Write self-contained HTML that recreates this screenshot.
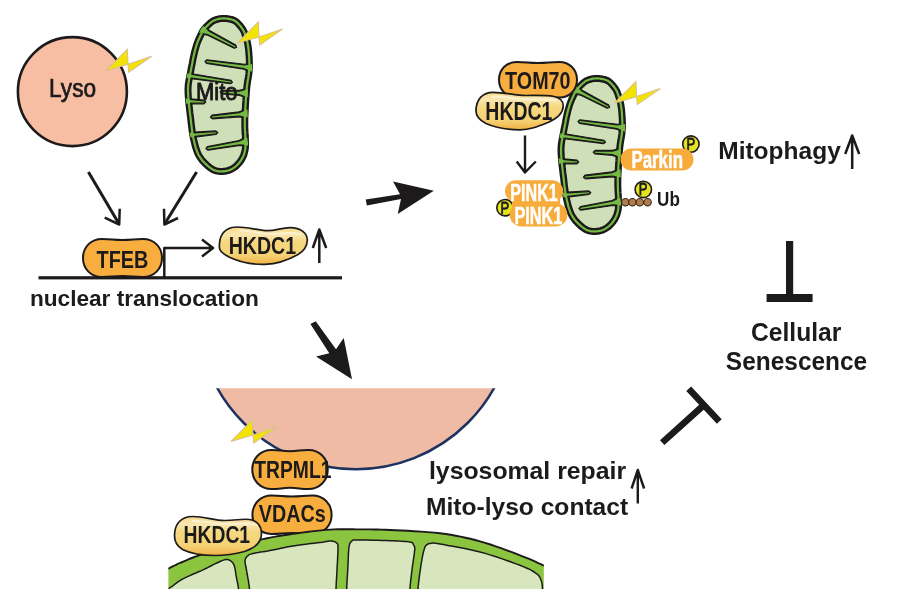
<!DOCTYPE html>
<html><head><meta charset="utf-8"><style>html,body{margin:0;padding:0;background:#fff;}svg{display:block;will-change:transform;}</style></head>
<body><svg width="900" height="601" viewBox="0 0 900 601" font-family="Liberation Sans, sans-serif" font-weight="bold">
<rect width="900" height="601" fill="#ffffff"/>
<defs><linearGradient id="yg" x1="0" y1="0" x2="0" y2="1"><stop offset="0" stop-color="#f6d98a"/><stop offset="0.2" stop-color="#f9e6b0"/><stop offset="0.4" stop-color="#f6d880"/><stop offset="0.75" stop-color="#f4d274"/><stop offset="1" stop-color="#f0b044"/></linearGradient></defs>
<defs><clipPath id="mclip"><path d="M596.7,75.7 L597.6,75.7 L598.6,75.8 L599.6,75.8 L600.6,76.0 L601.6,76.1 L602.5,76.3 L603.5,76.5 L604.4,76.7 L605.2,76.9 L606.1,77.2 L606.9,77.4 L607.6,77.7 L608.4,78.1 L609.2,78.5 L609.9,78.9 L610.7,79.5 L611.5,80.2 L612.3,80.9 L613.2,81.8 L614.1,82.7 L614.9,83.7 L615.7,84.6 L616.4,85.6 L617.1,86.5 L617.7,87.3 L618.2,88.1 L618.6,88.8 L619.0,89.5 L619.4,90.3 L619.7,91.2 L620.1,92.2 L620.5,93.5 L621.0,94.8 L621.5,96.3 L621.9,97.9 L622.4,99.6 L622.9,101.4 L623.3,103.3 L623.7,105.3 L624.0,107.5 L624.3,109.8 L624.5,112.2 L624.7,114.9 L624.9,117.6 L625.0,120.3 L625.1,123.1 L625.1,125.9 L625.0,128.6 L624.8,131.2 L624.6,133.7 L624.2,136.2 L623.8,138.7 L623.4,141.3 L623.0,144.0 L622.6,146.9 L622.3,150.0 L622.0,153.4 L621.7,157.1 L621.5,161.1 L621.2,165.1 L621.0,169.2 L620.8,173.1 L620.6,176.7 L620.5,180.0 L620.5,182.9 L620.5,185.7 L620.6,188.2 L620.7,190.6 L620.8,192.9 L621.0,195.0 L621.1,197.0 L621.1,198.9 L621.1,200.7 L621.2,202.4 L621.2,203.9 L621.2,205.3 L621.2,206.6 L621.1,207.9 L620.9,209.2 L620.7,210.5 L620.4,211.9 L620.1,213.2 L619.7,214.6 L619.3,215.9 L618.8,217.2 L618.3,218.4 L617.6,219.7 L616.9,220.9 L616.0,222.2 L615.1,223.5 L614.1,224.7 L613.0,226.0 L611.8,227.2 L610.7,228.3 L609.4,229.3 L608.2,230.2 L607.0,231.0 L605.7,231.6 L604.3,232.2 L602.9,232.8 L601.5,233.2 L600.1,233.6 L598.7,233.8 L597.2,234.0 L595.8,234.1 L594.4,234.1 L592.9,234.1 L591.4,233.9 L589.9,233.7 L588.5,233.4 L587.1,233.0 L585.7,232.4 L584.4,231.8 L583.0,231.0 L581.7,230.1 L580.4,229.1 L579.1,228.0 L577.9,226.9 L576.7,225.8 L575.6,224.7 L574.5,223.5 L573.5,222.4 L572.6,221.3 L571.7,220.1 L570.8,218.9 L570.0,217.5 L569.2,216.1 L568.5,214.6 L567.7,212.9 L567.1,211.2 L566.4,209.3 L565.8,207.3 L565.3,205.3 L564.8,203.2 L564.3,201.1 L563.8,198.9 L563.4,196.8 L563.0,194.6 L562.6,192.5 L562.3,190.3 L562.0,188.0 L561.7,185.5 L561.4,182.9 L561.1,179.9 L560.7,176.7 L560.3,173.0 L559.8,169.1 L559.3,165.1 L558.9,161.1 L558.6,157.1 L558.4,153.4 L558.3,150.0 L558.4,146.9 L558.6,144.1 L559.0,141.4 L559.4,138.8 L559.9,136.3 L560.5,133.8 L561.0,131.3 L561.5,128.7 L562.0,126.0 L562.5,123.2 L563.0,120.4 L563.6,117.6 L564.2,114.9 L564.8,112.3 L565.4,109.8 L566.0,107.5 L566.6,105.4 L567.3,103.4 L568.0,101.5 L568.7,99.7 L569.4,98.0 L570.1,96.4 L570.8,94.9 L571.5,93.5 L572.0,92.3 L572.6,91.3 L573.1,90.4 L573.5,89.6 L574.0,88.8 L574.6,88.1 L575.2,87.4 L575.9,86.5 L576.7,85.6 L577.5,84.7 L578.5,83.7 L579.5,82.7 L580.5,81.8 L581.4,81.0 L582.4,80.2 L583.3,79.5 L584.1,78.9 L584.9,78.5 L585.7,78.1 L586.5,77.7 L587.2,77.4 L588.0,77.2 L588.8,76.9 L589.6,76.7 L590.5,76.5 L591.3,76.3 L592.2,76.1 L593.1,76.0 L594.0,75.8 L594.9,75.8 L595.8,75.7Z"/></clipPath><g id="mito"><path d="M596.7,78.4 L597.5,78.4 L598.4,78.5 L599.3,78.5 L600.2,78.6 L601.1,78.8 L602.0,78.9 L602.9,79.1 L603.7,79.3 L604.5,79.5 L605.3,79.7 L606.0,80.0 L606.6,80.2 L607.2,80.5 L607.8,80.8 L608.4,81.2 L609.0,81.6 L609.7,82.2 L610.5,82.9 L611.3,83.7 L612.1,84.5 L612.8,85.4 L613.6,86.3 L614.3,87.2 L614.9,88.1 L615.4,88.8 L615.9,89.5 L616.2,90.1 L616.6,90.7 L616.9,91.4 L617.2,92.2 L617.6,93.1 L618.0,94.3 L618.4,95.7 L618.9,97.1 L619.4,98.7 L619.8,100.3 L620.3,102.0 L620.7,103.9 L621.0,105.8 L621.3,107.8 L621.6,110.0 L621.8,112.5 L622.0,115.0 L622.2,117.7 L622.3,120.4 L622.4,123.2 L622.4,125.9 L622.3,128.5 L622.1,130.9 L621.9,133.3 L621.6,135.8 L621.2,138.2 L620.7,140.8 L620.3,143.6 L619.9,146.5 L619.6,149.7 L619.3,153.2 L619.0,156.9 L618.8,160.9 L618.5,165.0 L618.3,169.0 L618.1,172.9 L617.9,176.6 L617.8,179.9 L617.8,182.9 L617.8,185.8 L617.9,188.4 L618.0,190.8 L618.1,193.0 L618.3,195.1 L618.4,197.1 L618.4,199.0 L618.4,200.8 L618.5,202.4 L618.5,203.9 L618.5,205.2 L618.5,206.5 L618.4,207.6 L618.3,208.8 L618.1,210.0 L617.8,211.3 L617.5,212.6 L617.1,213.8 L616.8,215.0 L616.3,216.1 L615.8,217.3 L615.2,218.4 L614.6,219.5 L613.8,220.6 L613.0,221.8 L612.0,223.0 L611.0,224.2 L609.9,225.3 L608.9,226.3 L607.8,227.2 L606.7,227.9 L605.6,228.6 L604.5,229.2 L603.3,229.7 L602.1,230.2 L600.8,230.6 L599.5,230.9 L598.2,231.2 L597.0,231.3 L595.7,231.4 L594.4,231.4 L593.1,231.4 L591.7,231.3 L590.4,231.1 L589.2,230.8 L587.9,230.4 L586.8,230.0 L585.6,229.4 L584.5,228.7 L583.3,227.9 L582.1,227.0 L580.9,226.0 L579.7,224.9 L578.6,223.9 L577.5,222.8 L576.5,221.7 L575.5,220.7 L574.7,219.6 L573.8,218.5 L573.1,217.4 L572.3,216.2 L571.6,214.9 L570.9,213.5 L570.2,211.9 L569.6,210.2 L569.0,208.5 L568.4,206.6 L567.9,204.6 L567.4,202.5 L566.9,200.5 L566.4,198.3 L566.0,196.3 L565.6,194.2 L565.3,192.1 L565.0,190.0 L564.7,187.7 L564.4,185.2 L564.1,182.6 L563.8,179.6 L563.4,176.3 L562.9,172.7 L562.5,168.8 L562.0,164.8 L561.6,160.8 L561.3,156.9 L561.1,153.3 L561.0,150.0 L561.1,147.1 L561.3,144.4 L561.7,141.8 L562.1,139.3 L562.6,136.9 L563.1,134.4 L563.6,131.8 L564.1,129.2 L564.6,126.5 L565.2,123.7 L565.7,120.9 L566.2,118.2 L566.8,115.5 L567.4,112.9 L568.0,110.5 L568.6,108.3 L569.2,106.2 L569.8,104.3 L570.5,102.4 L571.2,100.7 L571.9,99.0 L572.6,97.5 L573.3,96.0 L573.9,94.7 L574.5,93.5 L574.9,92.5 L575.4,91.7 L575.8,91.0 L576.2,90.4 L576.7,89.8 L577.3,89.1 L577.9,88.3 L578.7,87.4 L579.5,86.5 L580.4,85.6 L581.3,84.7 L582.3,83.8 L583.2,83.0 L584.1,82.3 L584.9,81.7 L585.6,81.2 L586.2,80.8 L586.9,80.5 L587.5,80.2 L588.2,80.0 L588.8,79.7 L589.6,79.5 L590.4,79.3 L591.1,79.1 L591.9,78.9 L592.7,78.7 L593.5,78.6 L594.3,78.5 L595.1,78.5 L595.9,78.4Z" fill="#cfe0b9"/><path d="M596.7,78.4 L597.5,78.4 L598.4,78.5 L599.3,78.5 L600.2,78.6 L601.1,78.8 L602.0,78.9 L602.9,79.1 L603.7,79.3 L604.5,79.5 L605.3,79.7 L606.0,80.0 L606.6,80.2 L607.2,80.5 L607.8,80.8 L608.4,81.2 L609.0,81.6 L609.7,82.2 L610.5,82.9 L611.3,83.7 L612.1,84.5 L612.8,85.4 L613.6,86.3 L614.3,87.2 L614.9,88.1 L615.4,88.8 L615.9,89.5 L616.2,90.1 L616.6,90.7 L616.9,91.4 L617.2,92.2 L617.6,93.1 L618.0,94.3 L618.4,95.7 L618.9,97.1 L619.4,98.7 L619.8,100.3 L620.3,102.0 L620.7,103.9 L621.0,105.8 L621.3,107.8 L621.6,110.0 L621.8,112.5 L622.0,115.0 L622.2,117.7 L622.3,120.4 L622.4,123.2 L622.4,125.9 L622.3,128.5 L622.1,130.9 L621.9,133.3 L621.6,135.8 L621.2,138.2 L620.7,140.8 L620.3,143.6 L619.9,146.5 L619.6,149.7 L619.3,153.2 L619.0,156.9 L618.8,160.9 L618.5,165.0 L618.3,169.0 L618.1,172.9 L617.9,176.6 L617.8,179.9 L617.8,182.9 L617.8,185.8 L617.9,188.4 L618.0,190.8 L618.1,193.0 L618.3,195.1 L618.4,197.1 L618.4,199.0 L618.4,200.8 L618.5,202.4 L618.5,203.9 L618.5,205.2 L618.5,206.5 L618.4,207.6 L618.3,208.8 L618.1,210.0 L617.8,211.3 L617.5,212.6 L617.1,213.8 L616.8,215.0 L616.3,216.1 L615.8,217.3 L615.2,218.4 L614.6,219.5 L613.8,220.6 L613.0,221.8 L612.0,223.0 L611.0,224.2 L609.9,225.3 L608.9,226.3 L607.8,227.2 L606.7,227.9 L605.6,228.6 L604.5,229.2 L603.3,229.7 L602.1,230.2 L600.8,230.6 L599.5,230.9 L598.2,231.2 L597.0,231.3 L595.7,231.4 L594.4,231.4 L593.1,231.4 L591.7,231.3 L590.4,231.1 L589.2,230.8 L587.9,230.4 L586.8,230.0 L585.6,229.4 L584.5,228.7 L583.3,227.9 L582.1,227.0 L580.9,226.0 L579.7,224.9 L578.6,223.9 L577.5,222.8 L576.5,221.7 L575.5,220.7 L574.7,219.6 L573.8,218.5 L573.1,217.4 L572.3,216.2 L571.6,214.9 L570.9,213.5 L570.2,211.9 L569.6,210.2 L569.0,208.5 L568.4,206.6 L567.9,204.6 L567.4,202.5 L566.9,200.5 L566.4,198.3 L566.0,196.3 L565.6,194.2 L565.3,192.1 L565.0,190.0 L564.7,187.7 L564.4,185.2 L564.1,182.6 L563.8,179.6 L563.4,176.3 L562.9,172.7 L562.5,168.8 L562.0,164.8 L561.6,160.8 L561.3,156.9 L561.1,153.3 L561.0,150.0 L561.1,147.1 L561.3,144.4 L561.7,141.8 L562.1,139.3 L562.6,136.9 L563.1,134.4 L563.6,131.8 L564.1,129.2 L564.6,126.5 L565.2,123.7 L565.7,120.9 L566.2,118.2 L566.8,115.5 L567.4,112.9 L568.0,110.5 L568.6,108.3 L569.2,106.2 L569.8,104.3 L570.5,102.4 L571.2,100.7 L571.9,99.0 L572.6,97.5 L573.3,96.0 L573.9,94.7 L574.5,93.5 L574.9,92.5 L575.4,91.7 L575.8,91.0 L576.2,90.4 L576.7,89.8 L577.3,89.1 L577.9,88.3 L578.7,87.4 L579.5,86.5 L580.4,85.6 L581.3,84.7 L582.3,83.8 L583.2,83.0 L584.1,82.3 L584.9,81.7 L585.6,81.2 L586.2,80.8 L586.9,80.5 L587.5,80.2 L588.2,80.0 L588.8,79.7 L589.6,79.5 L590.4,79.3 L591.1,79.1 L591.9,78.9 L592.7,78.7 L593.5,78.6 L594.3,78.5 L595.1,78.5 L595.9,78.4Z" fill="none" stroke="#1c1a1b" stroke-width="7.0"/><g clip-path="url(#mclip)"><path d="M571.32,93.76 L576.66,94.35 L580.25,95.04 L607.17,108.30 L609.60,107.53 L608.83,105.10 L582.56,90.60 L579.94,88.05 L576.41,84.01Z" fill="#1c1a1b" stroke="#1c1a1b" stroke-width="1.2" stroke-linejoin="round"/><path d="M626.40,122.43 L621.18,123.68 L617.57,124.25 L579.94,119.82 L577.92,121.36 L579.46,123.38 L616.89,129.20 L620.22,130.72 L624.91,133.33Z" fill="#1c1a1b" stroke="#1c1a1b" stroke-width="1.2" stroke-linejoin="round"/><path d="M555.55,140.41 L560.78,139.21 L564.39,138.69 L603.44,143.78 L605.48,142.26 L603.96,140.22 L565.13,133.74 L561.82,132.19 L557.16,129.52Z" fill="#1c1a1b" stroke="#1c1a1b" stroke-width="1.2" stroke-linejoin="round"/><path d="M621.11,147.70 L616.04,149.45 L612.50,150.37 L595.07,150.40 L593.20,152.13 L594.93,154.00 L612.31,155.36 L615.76,156.55 L620.69,158.69Z" fill="#1c1a1b" stroke="#1c1a1b" stroke-width="1.2" stroke-linejoin="round"/><path d="M555.24,166.45 L560.33,164.75 L563.87,163.87 L576.91,163.80 L578.80,162.09 L577.09,160.20 L564.12,158.87 L560.67,157.65 L555.77,155.46Z" fill="#1c1a1b" stroke="#1c1a1b" stroke-width="1.2" stroke-linejoin="round"/><path d="M620.34,168.04 L615.55,170.47 L612.17,171.85 L585.02,175.21 L583.41,177.18 L585.38,178.79 L612.66,176.83 L616.25,177.53 L621.41,178.99Z" fill="#1c1a1b" stroke="#1c1a1b" stroke-width="1.2" stroke-linejoin="round"/><path d="M559.71,200.82 L564.51,198.44 L567.91,197.08 L589.16,194.49 L590.79,192.54 L588.84,190.91 L567.47,192.10 L563.89,191.36 L558.73,189.86Z" fill="#1c1a1b" stroke="#1c1a1b" stroke-width="1.2" stroke-linejoin="round"/><path d="M619.90,196.14 L615.30,198.90 L612.03,200.52 L580.40,206.63 L578.93,208.70 L581.00,210.17 L612.87,205.45 L616.50,205.90 L621.75,206.98Z" fill="#1c1a1b" stroke="#1c1a1b" stroke-width="1.2" stroke-linejoin="round"/></g><path d="M596.7,78.4 L597.5,78.4 L598.4,78.5 L599.3,78.5 L600.2,78.6 L601.1,78.8 L602.0,78.9 L602.9,79.1 L603.7,79.3 L604.5,79.5 L605.3,79.7 L606.0,80.0 L606.6,80.2 L607.2,80.5 L607.8,80.8 L608.4,81.2 L609.0,81.6 L609.7,82.2 L610.5,82.9 L611.3,83.7 L612.1,84.5 L612.8,85.4 L613.6,86.3 L614.3,87.2 L614.9,88.1 L615.4,88.8 L615.9,89.5 L616.2,90.1 L616.6,90.7 L616.9,91.4 L617.2,92.2 L617.6,93.1 L618.0,94.3 L618.4,95.7 L618.9,97.1 L619.4,98.7 L619.8,100.3 L620.3,102.0 L620.7,103.9 L621.0,105.8 L621.3,107.8 L621.6,110.0 L621.8,112.5 L622.0,115.0 L622.2,117.7 L622.3,120.4 L622.4,123.2 L622.4,125.9 L622.3,128.5 L622.1,130.9 L621.9,133.3 L621.6,135.8 L621.2,138.2 L620.7,140.8 L620.3,143.6 L619.9,146.5 L619.6,149.7 L619.3,153.2 L619.0,156.9 L618.8,160.9 L618.5,165.0 L618.3,169.0 L618.1,172.9 L617.9,176.6 L617.8,179.9 L617.8,182.9 L617.8,185.8 L617.9,188.4 L618.0,190.8 L618.1,193.0 L618.3,195.1 L618.4,197.1 L618.4,199.0 L618.4,200.8 L618.5,202.4 L618.5,203.9 L618.5,205.2 L618.5,206.5 L618.4,207.6 L618.3,208.8 L618.1,210.0 L617.8,211.3 L617.5,212.6 L617.1,213.8 L616.8,215.0 L616.3,216.1 L615.8,217.3 L615.2,218.4 L614.6,219.5 L613.8,220.6 L613.0,221.8 L612.0,223.0 L611.0,224.2 L609.9,225.3 L608.9,226.3 L607.8,227.2 L606.7,227.9 L605.6,228.6 L604.5,229.2 L603.3,229.7 L602.1,230.2 L600.8,230.6 L599.5,230.9 L598.2,231.2 L597.0,231.3 L595.7,231.4 L594.4,231.4 L593.1,231.4 L591.7,231.3 L590.4,231.1 L589.2,230.8 L587.9,230.4 L586.8,230.0 L585.6,229.4 L584.5,228.7 L583.3,227.9 L582.1,227.0 L580.9,226.0 L579.7,224.9 L578.6,223.9 L577.5,222.8 L576.5,221.7 L575.5,220.7 L574.7,219.6 L573.8,218.5 L573.1,217.4 L572.3,216.2 L571.6,214.9 L570.9,213.5 L570.2,211.9 L569.6,210.2 L569.0,208.5 L568.4,206.6 L567.9,204.6 L567.4,202.5 L566.9,200.5 L566.4,198.3 L566.0,196.3 L565.6,194.2 L565.3,192.1 L565.0,190.0 L564.7,187.7 L564.4,185.2 L564.1,182.6 L563.8,179.6 L563.4,176.3 L562.9,172.7 L562.5,168.8 L562.0,164.8 L561.6,160.8 L561.3,156.9 L561.1,153.3 L561.0,150.0 L561.1,147.1 L561.3,144.4 L561.7,141.8 L562.1,139.3 L562.6,136.9 L563.1,134.4 L563.6,131.8 L564.1,129.2 L564.6,126.5 L565.2,123.7 L565.7,120.9 L566.2,118.2 L566.8,115.5 L567.4,112.9 L568.0,110.5 L568.6,108.3 L569.2,106.2 L569.8,104.3 L570.5,102.4 L571.2,100.7 L571.9,99.0 L572.6,97.5 L573.3,96.0 L573.9,94.7 L574.5,93.5 L574.9,92.5 L575.4,91.7 L575.8,91.0 L576.2,90.4 L576.7,89.8 L577.3,89.1 L577.9,88.3 L578.7,87.4 L579.5,86.5 L580.4,85.6 L581.3,84.7 L582.3,83.8 L583.2,83.0 L584.1,82.3 L584.9,81.7 L585.6,81.2 L586.2,80.8 L586.9,80.5 L587.5,80.2 L588.2,80.0 L588.8,79.7 L589.6,79.5 L590.4,79.3 L591.1,79.1 L591.9,78.9 L592.7,78.7 L593.5,78.6 L594.3,78.5 L595.1,78.5 L595.9,78.4Z" fill="none" stroke="#75bb43" stroke-width="2.2"/><g clip-path="url(#mclip)"><path d="M571.92,92.61 L577.26,93.19 L580.85,93.88 L607.75,107.19 L608.49,106.95 L608.25,106.21 L581.96,91.76 L579.34,89.21 L575.81,85.16Z" fill="#75bb43"/><path d="M626.22,123.72 L621.00,124.97 L617.39,125.54 L579.77,121.06 L579.16,121.53 L579.63,122.14 L617.07,127.92 L620.40,129.43 L625.09,132.04Z" fill="#75bb43"/><path d="M555.74,139.12 L560.97,137.93 L564.59,137.40 L603.62,142.54 L604.24,142.08 L603.78,141.46 L564.94,135.03 L561.63,133.47 L556.97,130.81Z" fill="#75bb43"/><path d="M621.06,148.99 L615.99,150.75 L612.45,151.67 L595.02,151.65 L594.45,152.18 L594.98,152.75 L612.36,154.07 L615.81,155.25 L620.74,157.39Z" fill="#75bb43"/><path d="M555.30,165.15 L560.39,163.45 L563.94,162.57 L576.97,162.55 L577.55,162.03 L577.03,161.45 L564.05,160.17 L560.61,158.95 L555.71,156.76Z" fill="#75bb43"/><path d="M620.47,169.33 L615.68,171.76 L612.30,173.15 L585.15,176.45 L584.65,177.05 L585.25,177.55 L612.53,175.53 L616.12,176.24 L621.28,177.69Z" fill="#75bb43"/><path d="M559.59,199.53 L564.40,197.14 L567.79,195.79 L589.05,193.25 L589.55,192.65 L588.95,192.15 L567.58,193.40 L564.00,192.66 L558.85,191.16Z" fill="#75bb43"/><path d="M620.12,197.42 L615.52,200.18 L612.25,201.81 L580.61,207.86 L580.16,208.49 L580.79,208.94 L612.65,204.17 L616.28,204.62 L621.53,205.70Z" fill="#75bb43"/></g></g></defs>
<circle cx="72.4" cy="91.6" r="54.5" fill="#f7bea4" stroke="#1c1a1b" stroke-width="2.6"/>
<text transform="translate(49.09,97.40) scale(0.9090,1)" font-size="24.93" fill="#1c1a1b" font-weight="normal" stroke="#1c1a1b" stroke-width="0.7" stroke-linejoin="round" >Lyso</text>
<path transform="translate(106,70.7)" d="M0,0 L21.3,-21.4 L22,-6.4 L45.7,-14.4 L22.7,1.6 L22,-6.4 Z" fill="#f3e400" stroke="#dcc08e" stroke-width="1.1" stroke-linejoin="miter"/>
<use href="#mito" transform="translate(-373,-60)"/>
<text transform="translate(196.04,99.90) scale(0.8920,1)" font-size="24.64" fill="#1c1a1b" font-weight="normal" stroke="#1c1a1b" stroke-width="0.95" stroke-linejoin="round" >Mito</text>
<path transform="translate(237,43.3)" d="M0,0 L21.3,-21.4 L22,-6.4 L45.7,-14.4 L22.7,1.6 L22,-6.4 Z" fill="#f3e400" stroke="#dcc08e" stroke-width="1.1" stroke-linejoin="miter"/>
<path d="M88.4,171.9 L118.5,223" fill="none" stroke="#1c1a1b" stroke-width="3.0"/><path d="M104.7,217.7 L119.2,224.5 L119.7,208.7" fill="none" stroke="#1c1a1b" stroke-width="2.5" stroke-linejoin="round"/>
<path d="M196.6,172 L165.2,223" fill="none" stroke="#1c1a1b" stroke-width="3.0"/><path d="M164,208.7 L164.4,224.5 L178,218" fill="none" stroke="#1c1a1b" stroke-width="2.5" stroke-linejoin="round"/>
<rect x="38.5" y="276.2" width="303.5" height="3.2" fill="#1c1a1b"/>
<path transform="translate(122.50,258.00) rotate(0)" d="M-20.50,-19.00 C-10.25,-19.00 -10.25,-18.00 0,-18.00 C10.25,-18.00 10.25,-19.00 20.50,-19.00 C31.52,-19.00 39.50,-11.02 39.50,0 C39.50,11.02 31.52,19.00 20.50,19.00 C10.25,19.00 10.25,18.00 0,18.00 C-10.25,18.00 -10.25,19.00 -20.50,19.00 C-31.52,19.00 -39.50,11.02 -39.50,0 C-39.50,-11.02 -31.52,-19.00 -20.50,-19.00Z" fill="#f8ae3f" stroke="#1c1a1b" stroke-width="2.0"/>
<text transform="translate(96.60,267.90) scale(0.8102,1)" font-size="24.49" fill="#1c1a1b" >TFEB</text>
<path d="M164.3,277 L164.3,248 L212,248 M202,239.5 L213,248 L202,256.5" fill="none" stroke="#1c1a1b" stroke-width="2.5" stroke-linejoin="round"/>
<path d="M219.4,247.8 C219,238 222,230 232,227.5 C240,225.5 252,229 265,230.6 C275,231.5 281,227.5 290,227.6 C301,227.8 307.5,233 307.3,240.5 C307,247 304,251 298,254.5 C290,259 278,264 265,264.4 C252,264.8 240,262 230,257.5 C223,254 219.6,251 219.4,247.8 Z" fill="url(#yg)" stroke="#1c1a1b" stroke-width="1.7"/>
<path d="M240,230.5 C252,231 258,233.5 268,234 C280,234.5 287,231 301,234.5" fill="none" stroke="#fdf3d6" stroke-width="2.0" stroke-linecap="round" opacity="0.85"/>
<text transform="translate(228.73,254.40) scale(0.8227,1)" font-size="23.77" fill="#1c1a1b" >HKDC1</text>
<path d="M319.3,263 L319.3,231 M312.8,248 L319.3,229.5 L326.2,248" fill="none" stroke="#1c1a1b" stroke-width="2.5" stroke-linejoin="round"/>
<text transform="translate(29.93,306.30) scale(1.0456,1)" font-size="21.66" fill="#1c1a1b" >nuclear translocation</text>
<path d="M365.7,199.6 L400,194.3 L393,181.5 L433.8,190.8 L397.7,214.1 L401,199 L366.9,205.4 Z" fill="#1c1a1b"/>
<path d="M310.4,324 L315.7,321.3 L336,349.3 L343.7,338 L352,379.2 L316,356.6 L329.3,353.3 Z" fill="#1c1a1b"/>
<use href="#mito"/>
<path transform="translate(614.6,103)" d="M0,0 L21.3,-21.4 L22,-6.4 L45.7,-14.4 L22.7,1.6 L22,-6.4 Z" fill="#f3e400" stroke="#dcc08e" stroke-width="1.1" stroke-linejoin="miter"/>
<path transform="translate(538.00,79.80) rotate(0)" d="M-21.25,-17.75 C-10.62,-17.75 -10.62,-16.75 0,-16.75 C10.62,-16.75 10.62,-17.75 21.25,-17.75 C31.55,-17.75 39.00,-10.29 39.00,0 C39.00,10.29 31.55,17.75 21.25,17.75 C10.62,17.75 10.62,16.75 0,16.75 C-10.62,16.75 -10.62,17.75 -21.25,17.75 C-31.55,17.75 -39.00,10.29 -39.00,0 C-39.00,-10.29 -31.55,-17.75 -21.25,-17.75Z" fill="#f8ae3f" stroke="#1c1a1b" stroke-width="2.0"/>
<text transform="translate(505.10,88.60) scale(0.8312,1)" font-size="23.77" fill="#1c1a1b" >TOM70</text>
<path d="M476,111 C476,99 483,92.3 493,92.3 C506,92.3 514,95.5 526,95.5 C538,95.5 546,95 554,96.5 C561,98 563.5,102 563.2,106.5 C562.8,114 556,119 548,122.5 C538,126.5 530,129.8 520,129.8 C506,129.8 495,127.5 486,123.5 C480,120.5 476,116 476,111 Z" fill="url(#yg)" stroke="#1c1a1b" stroke-width="1.7"/>
<path d="M492,96.5 C505,96 515,99.5 527,99.5 C540,99.5 548,98.5 556,100.5" fill="none" stroke="#fdf3d6" stroke-width="2.2" stroke-linecap="round" opacity="0.9"/>
<text transform="translate(485.33,120.20) scale(0.7718,1)" font-size="25.22" fill="#1c1a1b" >HKDC1</text>
<path d="M525,135.5 L525,171 M516.7,161.5 L525,172.5 L535.8,161.5" fill="none" stroke="#1c1a1b" stroke-width="2.4" stroke-linejoin="round"/>
<circle cx="505" cy="207.7" r="8.2" fill="#e3e31f" stroke="#1c1a1b" stroke-width="1.6"/><text transform="translate(500.55,213.50) scale(0.7783,1)" font-size="16.81" fill="#1c1a1b" font-weight="normal" stroke="#1c1a1b" stroke-width="0.8" stroke-linejoin="round" >P</text>
<rect x="505" y="180.2" width="58.2" height="21.8" rx="10.9" fill="#f7ab3b"/>
<rect x="509.7" y="203.2" width="57.6" height="23.3" rx="11.6" fill="#f7ab3b"/>
<rect x="512" y="196" width="48" height="12" fill="#f7ab3b"/>
<text transform="translate(510.35,200.50) scale(0.6738,1)" font-size="23.91" fill="#ffffff" stroke="#ffffff" stroke-width="0.55" stroke-linejoin="round" >PINK1</text>
<text transform="translate(514.44,223.80) scale(0.7024,1)" font-size="23.19" fill="#ffffff" stroke="#ffffff" stroke-width="0.55" stroke-linejoin="round" >PINK1</text>
<circle cx="690.9" cy="144.1" r="8.2" fill="#e3e31f" stroke="#1c1a1b" stroke-width="1.6"/><text transform="translate(686.45,149.90) scale(0.7783,1)" font-size="16.81" fill="#1c1a1b" font-weight="normal" stroke="#1c1a1b" stroke-width="0.8" stroke-linejoin="round" >P</text>
<rect x="620.5" y="148.5" width="73" height="22" rx="11" fill="#f7ab3b"/>
<text transform="translate(631.40,168.00) scale(0.7065,1)" font-size="23.91" fill="#ffffff" stroke="#ffffff" stroke-width="0.55" stroke-linejoin="round" >Parkin</text>
<circle cx="643.3" cy="189.4" r="8.2" fill="#e3e31f" stroke="#1c1a1b" stroke-width="1.6"/><text transform="translate(638.85,195.20) scale(0.7783,1)" font-size="16.81" fill="#1c1a1b" font-weight="normal" stroke="#1c1a1b" stroke-width="0.8" stroke-linejoin="round" >P</text>
<circle cx="625.4" cy="202.2" r="3.7" fill="#b07d4a" stroke="#3a2a1c" stroke-width="1.1"/>
<circle cx="632.4" cy="202.2" r="3.7" fill="#b07d4a" stroke="#3a2a1c" stroke-width="1.1"/>
<circle cx="639.8" cy="202.2" r="3.7" fill="#b07d4a" stroke="#3a2a1c" stroke-width="1.1"/>
<circle cx="647.6" cy="202.2" r="3.7" fill="#b07d4a" stroke="#3a2a1c" stroke-width="1.1"/>
<text transform="translate(657.08,206.10) scale(0.8181,1)" font-size="20.87" fill="#1c1a1b" >Ub</text>
<text transform="translate(718.21,158.80) scale(1.0576,1)" font-size="23.19" fill="#1c1a1b" >Mitophagy</text>
<path d="M852.2,169 L852.2,137 M845.2,154 L852.2,135.5 L859.2,154" fill="none" stroke="#1c1a1b" stroke-width="2.5" stroke-linejoin="round"/>
<rect x="786" y="241" width="7.2" height="57" fill="#1c1a1b"/>
<rect x="766.6" y="294" width="46" height="8" fill="#1c1a1b"/>
<text transform="translate(751.02,340.50) scale(0.9707,1)" font-size="25.36" fill="#1c1a1b" >Cellular</text>
<text transform="translate(725.87,369.80) scale(0.9756,1)" font-size="25.07" fill="#1c1a1b" >Senescence</text>
<clipPath id="lc"><rect x="0" y="388.3" width="900" height="300"/></clipPath>
<circle cx="355.7" cy="310.6" r="158.6" fill="#efbba4" stroke="#1e3260" stroke-width="2.5" clip-path="url(#lc)"/>
<path transform="translate(231,441.4)" d="M0,0 L21.3,-21.4 L22,-6.4 L45.7,-14.4 L22.7,1.6 L22,-6.4 Z" fill="#f3e400" stroke="#dcc08e" stroke-width="1.1" stroke-linejoin="miter"/>
<path transform="translate(290.00,469.50) rotate(0)" d="M-18.25,-19.50 C-9.12,-19.50 -9.12,-18.30 0,-18.30 C9.12,-18.30 9.12,-19.50 18.25,-19.50 C29.56,-19.50 37.75,-11.31 37.75,0 C37.75,11.31 29.56,19.50 18.25,19.50 C9.12,19.50 9.12,18.30 0,18.30 C-9.12,18.30 -9.12,19.50 -18.25,19.50 C-29.56,19.50 -37.75,11.31 -37.75,0 C-37.75,-11.31 -29.56,-19.50 -18.25,-19.50Z" fill="#f8ae3f" stroke="#1c1a1b" stroke-width="2.0"/>
<text transform="translate(254.31,477.50) scale(0.7924,1)" font-size="24.35" fill="#1c1a1b" >TRPML1</text>
<path transform="translate(292.00,514.80) rotate(0)" d="M-20.40,-19.20 C-10.20,-19.20 -10.20,-18.20 0,-18.20 C10.20,-18.20 10.20,-19.20 20.40,-19.20 C31.54,-19.20 39.60,-11.14 39.60,0 C39.60,11.14 31.54,19.20 20.40,19.20 C10.20,19.20 10.20,18.20 0,18.20 C-10.20,18.20 -10.20,19.20 -20.40,19.20 C-31.54,19.20 -39.60,11.14 -39.60,0 C-39.60,-11.14 -31.54,-19.20 -20.40,-19.20Z" fill="#f8ae3f" stroke="#1c1a1b" stroke-width="2.0"/>
<text transform="translate(258.80,522.00) scale(0.8020,1)" font-size="24.64" fill="#1c1a1b" >VDACs</text>
<clipPath id="mc"><rect x="168.4" y="0" width="375.4" height="589"/></clipPath>
<g clip-path="url(#mc)"><path d="M140.0,582.0 L142.3,580.9 L145.6,579.4 L149.4,577.5 L153.6,575.5 L157.9,573.5 L162.1,571.5 L165.8,569.8 L168.9,568.3 L171.2,567.2 L173.1,566.2 L174.6,565.5 L176.0,564.8 L177.2,564.2 L178.6,563.5 L180.2,562.8 L182.2,562.0 L184.3,561.1 L186.3,560.3 L188.3,559.4 L190.5,558.5 L193.1,557.5 L196.2,556.4 L199.9,555.2 L204.4,553.9 L210.1,552.3 L216.9,550.5 L224.6,548.5 L232.7,546.5 L240.8,544.5 L248.6,542.5 L255.8,540.8 L262.0,539.4 L267.1,538.3 L271.5,537.4 L275.3,536.6 L278.8,536.0 L282.1,535.5 L285.5,535.0 L289.0,534.5 L293.0,533.9 L297.4,533.3 L302.0,532.6 L306.7,532.0 L311.6,531.4 L316.4,530.9 L321.1,530.4 L325.7,529.9 L330.0,529.6 L334.1,529.4 L338.0,529.2 L341.8,529.2 L345.4,529.2 L349.1,529.2 L352.7,529.3 L356.3,529.4 L360.0,529.4 L363.6,529.4 L367.0,529.4 L370.4,529.4 L373.8,529.5 L377.3,529.5 L381.1,529.6 L385.3,529.8 L390.0,530.0 L395.4,530.3 L401.3,530.5 L407.7,530.8 L414.4,531.2 L421.1,531.6 L427.7,532.1 L434.1,532.6 L440.0,533.3 L445.5,534.0 L450.7,534.8 L455.7,535.7 L460.6,536.6 L465.4,537.7 L470.2,538.8 L475.1,540.0 L480.0,541.3 L485.1,542.8 L490.4,544.5 L495.7,546.3 L501.0,548.2 L506.2,550.1 L511.2,551.9 L515.8,553.7 L520.0,555.3 L523.8,556.8 L527.2,558.1 L530.3,559.4 L533.1,560.7 L535.8,561.9 L538.3,563.1 L540.8,564.2 L543.3,565.3 L545.8,566.4 L548.3,567.6 L550.8,568.7 L553.1,569.8 L555.3,570.8 L557.2,571.7 L558.8,572.4 L560.0,573.0 L560.0,610 L140.0,610Z" fill="#8bc43f" stroke="#1c1a1b" stroke-width="1.9"/><path d="M150.0,597.0 L151.5,596.3 L153.6,595.4 L156.0,594.4 L158.7,593.2 L161.5,592.0 L164.2,590.7 L166.8,589.5 L169.0,588.3 L170.9,587.2 L172.5,586.1 L173.9,585.0 L175.3,583.9 L176.7,582.8 L178.3,581.7 L180.0,580.6 L182.0,579.4 L184.4,578.2 L187.0,576.9 L189.9,575.6 L192.8,574.3 L195.8,573.0 L198.7,571.8 L201.5,570.6 L204.0,569.4 L206.3,568.3 L208.6,567.1 L210.8,566.0 L212.9,564.9 L214.9,563.9 L216.8,563.0 L218.5,562.2 L220.0,561.5 L221.3,560.9 L222.4,560.5 L223.4,560.1 L224.2,559.9 L224.9,559.7 L225.6,559.5 L226.3,559.5 L227.0,559.5 L227.7,559.6 L228.4,559.8 L229.1,560.0 L229.8,560.3 L230.4,560.7 L231.0,561.1 L231.5,561.5 L232.0,562.0 L232.4,562.5 L232.8,562.9 L233.2,563.4 L233.5,564.0 L233.8,564.6 L234.1,565.3 L234.3,566.1 L234.6,567.0 L234.9,568.1 L235.1,569.3 L235.4,570.7 L235.6,572.1 L235.8,573.6 L236.0,575.1 L236.3,576.6 L236.5,578.0 L236.8,579.3 L237.0,580.6 L237.3,581.9 L237.6,583.2 L237.9,584.5 L238.1,585.9 L238.3,587.4 L238.5,589.0 L238.6,590.9 L238.7,593.0 L238.8,595.3 L238.9,597.7 L238.9,600.0 L238.9,602.0 L239.0,603.7 L239.0,605.0 L239.0,610 L150.0,610Z" fill="#d8e6bd" stroke="#1c1a1b" stroke-width="1.5"/><path d="M249.5,605.0 L249.5,603.7 L249.5,602.1 L249.6,600.1 L249.6,597.8 L249.6,595.5 L249.6,593.1 L249.5,590.7 L249.4,588.4 L249.2,586.1 L248.8,583.7 L248.5,581.2 L248.0,578.7 L247.6,576.3 L247.2,574.0 L246.8,571.9 L246.5,570.0 L246.2,568.4 L245.9,567.0 L245.7,565.8 L245.4,564.7 L245.2,563.7 L245.1,562.7 L245.0,561.9 L245.0,561.0 L245.1,560.2 L245.3,559.4 L245.5,558.7 L245.8,558.1 L246.2,557.5 L246.6,557.0 L247.0,556.5 L247.5,556.0 L248.0,555.6 L248.4,555.2 L248.8,554.9 L249.3,554.6 L250.0,554.4 L250.7,554.1 L251.7,553.8 L253.0,553.5 L254.5,553.2 L256.3,552.8 L258.3,552.5 L260.4,552.1 L262.7,551.8 L265.1,551.4 L267.5,551.0 L270.0,550.5 L272.6,550.0 L275.2,549.5 L278.0,548.9 L280.9,548.3 L283.8,547.7 L286.8,547.1 L289.9,546.5 L293.0,546.0 L296.3,545.5 L299.8,545.0 L303.5,544.5 L307.2,544.1 L310.9,543.6 L314.3,543.2 L317.4,542.8 L320.0,542.5 L322.2,542.2 L324.0,541.9 L325.5,541.6 L326.8,541.4 L328.0,541.2 L329.0,541.1 L330.0,541.0 L331.0,541.0 L332.0,541.1 L332.9,541.2 L333.7,541.4 L334.5,541.6 L335.1,541.9 L335.7,542.2 L336.2,542.6 L336.7,543.0 L337.1,543.4 L337.4,543.6 L337.6,543.9 L337.8,544.2 L337.9,544.7 L337.9,545.5 L338.0,546.5 L338.0,548.0 L338.0,550.0 L337.9,552.4 L337.8,555.1 L337.6,558.1 L337.5,561.2 L337.3,564.3 L337.1,567.3 L337.0,570.0 L336.9,572.5 L336.7,575.0 L336.6,577.5 L336.4,579.9 L336.3,582.2 L336.2,584.5 L336.1,586.8 L336.0,589.0 L336.0,591.3 L335.9,593.6 L335.9,595.9 L335.9,598.2 L336.0,600.3 L336.0,602.2 L336.0,603.8 L336.0,605.0 L336.0,610 L249.5,610Z" fill="#d8e6bd" stroke="#1c1a1b" stroke-width="1.5"/><path d="M346.7,605.0 L346.7,603.8 L346.7,602.3 L346.6,600.5 L346.6,598.5 L346.6,596.3 L346.6,593.9 L346.6,591.5 L346.7,589.0 L346.8,586.3 L346.9,583.4 L347.1,580.3 L347.3,577.1 L347.5,573.9 L347.7,570.8 L347.8,567.8 L348.0,565.0 L348.1,562.4 L348.2,559.8 L348.3,557.3 L348.4,554.8 L348.5,552.6 L348.7,550.5 L348.8,548.6 L349.0,547.0 L349.2,545.7 L349.5,544.7 L349.7,543.8 L350.0,543.2 L350.3,542.7 L350.7,542.3 L351.0,541.9 L351.5,541.5 L351.8,541.1 L352.0,540.8 L352.0,540.5 L352.2,540.4 L352.6,540.2 L353.4,540.1 L354.7,540.1 L356.7,540.0 L359.6,540.0 L363.4,540.0 L367.7,540.1 L372.4,540.2 L377.3,540.3 L382.0,540.4 L386.3,540.6 L390.0,540.7 L393.2,540.8 L396.3,540.9 L399.2,541.1 L401.9,541.2 L404.3,541.4 L406.5,541.5 L408.4,541.8 L410.0,542.0 L411.2,542.3 L412.1,542.6 L412.6,542.9 L412.9,543.3 L413.1,543.7 L413.2,544.1 L413.3,544.5 L413.5,545.0 L413.8,545.4 L414.1,545.8 L414.3,546.1 L414.5,546.4 L414.6,546.9 L414.7,547.6 L414.8,548.6 L414.7,550.0 L414.5,551.8 L414.3,554.0 L413.9,556.4 L413.5,559.1 L413.1,561.9 L412.7,564.7 L412.3,567.4 L412.0,570.0 L411.7,572.4 L411.4,574.9 L411.1,577.3 L410.8,579.8 L410.6,582.1 L410.3,584.5 L410.1,586.8 L410.0,589.0 L409.9,591.3 L409.9,593.6 L409.9,595.9 L409.9,598.2 L409.9,600.3 L410.0,602.2 L410.0,603.8 L410.0,605.0 L410.0,610 L346.7,610Z" fill="#d8e6bd" stroke="#1c1a1b" stroke-width="1.5"/><path d="M418.0,605.0 L418.0,603.8 L417.9,602.3 L417.9,600.5 L417.8,598.5 L417.8,596.3 L417.8,593.9 L417.9,591.5 L418.0,589.0 L418.2,586.3 L418.5,583.4 L418.9,580.2 L419.3,576.9 L419.7,573.7 L420.2,570.6 L420.6,567.6 L421.0,565.0 L421.4,562.6 L421.8,560.4 L422.1,558.3 L422.5,556.3 L422.9,554.5 L423.3,552.8 L423.6,551.3 L424.0,550.0 L424.3,548.9 L424.6,548.0 L424.9,547.2 L425.1,546.7 L425.4,546.2 L425.7,545.8 L426.1,545.4 L426.5,545.0 L427.0,544.6 L427.4,544.3 L428.0,544.0 L428.5,543.8 L429.1,543.6 L429.8,543.5 L430.5,543.4 L431.3,543.3 L432.0,543.2 L432.5,543.1 L432.9,543.1 L433.5,543.0 L434.3,543.1 L435.5,543.3 L437.4,543.5 L440.0,544.0 L443.5,544.6 L447.8,545.4 L452.7,546.2 L458.0,547.2 L463.6,548.3 L469.3,549.5 L474.8,550.7 L480.0,552.0 L485.2,553.4 L490.6,555.1 L496.1,556.8 L501.5,558.6 L506.8,560.5 L511.7,562.2 L516.1,563.9 L520.0,565.3 L523.2,566.6 L525.9,567.7 L528.2,568.7 L530.2,569.7 L531.9,570.6 L533.3,571.5 L534.7,572.4 L536.0,573.3 L537.2,574.2 L538.1,575.0 L538.8,575.8 L539.4,576.6 L539.9,577.4 L540.3,578.2 L540.6,579.1 L541.0,580.0 L541.4,581.0 L541.6,581.9 L541.9,582.9 L542.0,583.9 L542.2,585.0 L542.3,586.2 L542.4,587.5 L542.5,589.0 L542.6,590.8 L542.7,592.9 L542.8,595.2 L542.8,597.6 L542.9,599.9 L542.9,602.0 L543.0,603.7 L543.0,605.0 L543.0,610 L418.0,610Z" fill="#d8e6bd" stroke="#1c1a1b" stroke-width="1.5"/></g>
<g transform="translate(0.5,1.5)">
<path d="M174,534 C174,522 181,515 192,515 C205,515 213,519 224,519 C236,519 241,517 249,518 C257,519 261,525 261,532 C261,541 253,547 244,550 C233,553 224,554 214,554 C200,554 190,552 182,548 C177,545 174,540 174,534 Z" fill="url(#yg)" stroke="#1c1a1b" stroke-width="1.7"/>
<path d="M192,519.5 C205,519 213,522.5 225,522.5 C237,522.5 244,521 254,523" fill="none" stroke="#fdf3d6" stroke-width="2.0" stroke-linecap="round" opacity="0.85"/>
</g>
<text transform="translate(183.54,543.40) scale(0.7898,1)" font-size="24.49" fill="#1c1a1b" >HKDC1</text>
<text transform="translate(428.96,478.90) scale(1.0584,1)" font-size="23.45" fill="#1c1a1b" >lysosomal repair</text>
<text transform="translate(425.90,514.70) scale(1.0171,1)" font-size="24.20" fill="#1c1a1b" >Mito-lyso contact</text>
<path d="M637.8,503.5 L637.8,471 M631.6,488.5 L637.8,470 L644.1,488.5" fill="none" stroke="#1c1a1b" stroke-width="2.4" stroke-linejoin="round"/>
<path d="M662.2,442.6 L702,406.7 M688.7,388.7 L719.3,421.6" fill="none" stroke="#1c1a1b" stroke-width="6.6"/>
</svg></body></html>
